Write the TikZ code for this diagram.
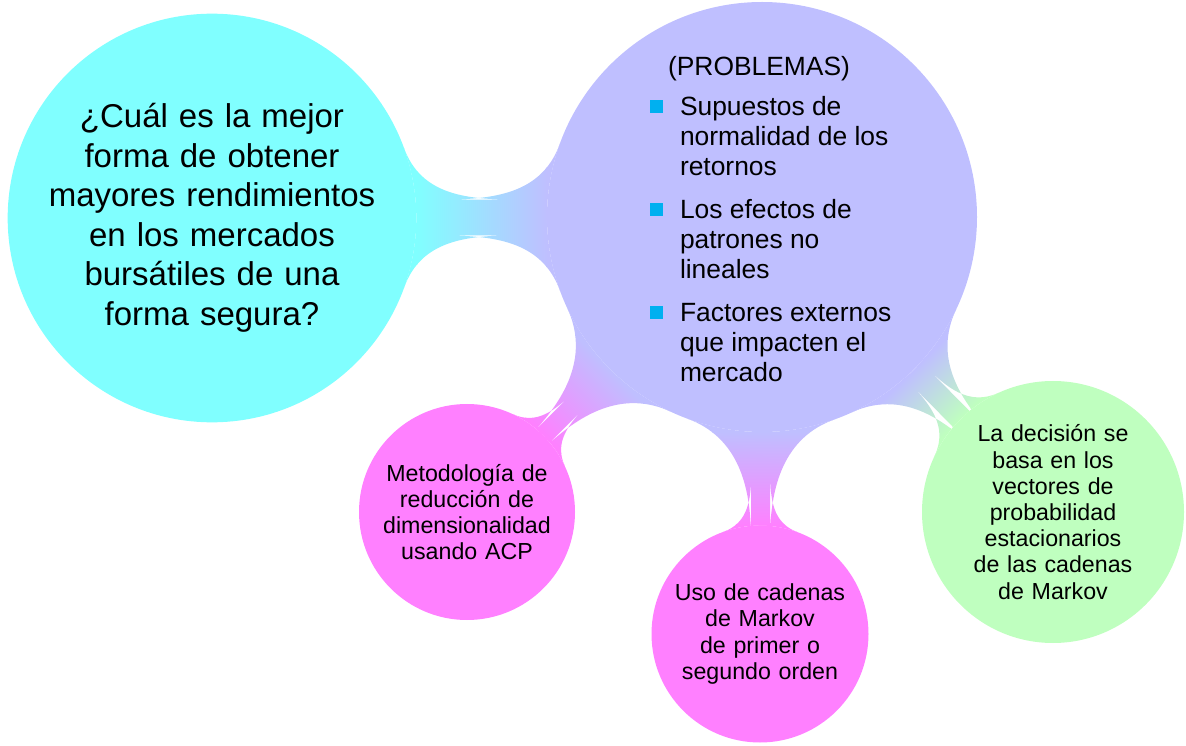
\documentclass[tikz,border=0pt]{standalone}
\usepackage{fontspec}
\setmainfont{Liberation Sans}
\usetikzlibrary{mindmap,backgrounds}
\definecolor{preguntacolor}{RGB}{128,255,255}
\definecolor{problemacolor}{RGB}{191,191,255}
\definecolor{metodocolor}{RGB}{255,128,255}
\definecolor{decisioncolor}{RGB}{191,255,191}
\definecolor{bulletblue}{RGB}{0,176,240}
\newcommand{\sqbullet}{\textcolor{bulletblue}{\rule[3pt]{13pt}{13pt}}}
\begin{document}
\begin{tikzpicture}[x=1pt,y=1pt,mindmap,
    every concept/.append style={draw=none,text=black,inner sep=0pt,align=center},
    bigtext/.style={font=\fontsize{33}{39.5}\selectfont,text width=340pt},
    smalltext/.style={font=\fontsize{23.2}{26.2}\selectfont,text width=182pt},
    listtext/.style={font=\fontsize{26.4}{30}\selectfont,inner sep=0pt,text width={},minimum size=0pt}]
  \useasboundingbox (0,0) rectangle (1186,745);
  \node[concept,concept color=preguntacolor,fill=preguntacolor,minimum size=408pt,bigtext] (pregunta) at (212,527)
    {¿Cuál es la mejor\\forma de obtener\\mayores rendimientos\\en los mercados\\bursátiles de una\\forma segura?};
  \node[concept,concept color=problemacolor,fill=problemacolor,minimum size=430pt] (problemas) at (762,528) {};
  \node[concept,concept color=metodocolor,fill=metodocolor,minimum size=216pt,smalltext] (metodo) at (467,233)
    {Metodología de\\reducción de\\dimensionalidad\\usando ACP};
  \node[concept,concept color=metodocolor,fill=metodocolor,minimum size=217pt,smalltext] (markov) at (760,111)
    {Uso de cadenas\\de Markov\\de primer o\\segundo orden};
  \node[concept,concept color=decisioncolor,fill=decisioncolor,minimum size=262pt,smalltext] (decision) at (1053,233)
    {La decisión se\\basa en los\\vectores de\\probabilidad\\estacionarios\\de las cadenas\\de Markov};
  \node[listtext,anchor=base] (titulo) at (759,669) {(PROBLEMAS)};
  \node[listtext,anchor=base west] (lista) at (650,629)
    {\begin{tabular}[t]{@{}p{14pt}@{\hspace{16pt}}p{230pt}@{}}
      \sqbullet & Supuestos de\newline normalidad de los\newline retornos\\[13pt]
      \sqbullet & Los efectos de\newline patrones no\newline lineales\\[13pt]
      \sqbullet & Factores externos\newline que impacten el\newline mercado
    \end{tabular}};
  \begin{pgfonlayer}{background}
    \path (pregunta) to[circle connection bar switch color=from (preguntacolor) to (problemacolor)] (problemas);
    \path (problemas) to[circle connection bar switch color=from (problemacolor) to (metodocolor)] (metodo);
    \path (problemas) to[circle connection bar switch color=from (problemacolor) to (metodocolor)] (markov);
    \path (problemas) to[circle connection bar switch color=from (problemacolor) to (decisioncolor)] (decision);
  \end{pgfonlayer}
\end{tikzpicture}
\end{document}
